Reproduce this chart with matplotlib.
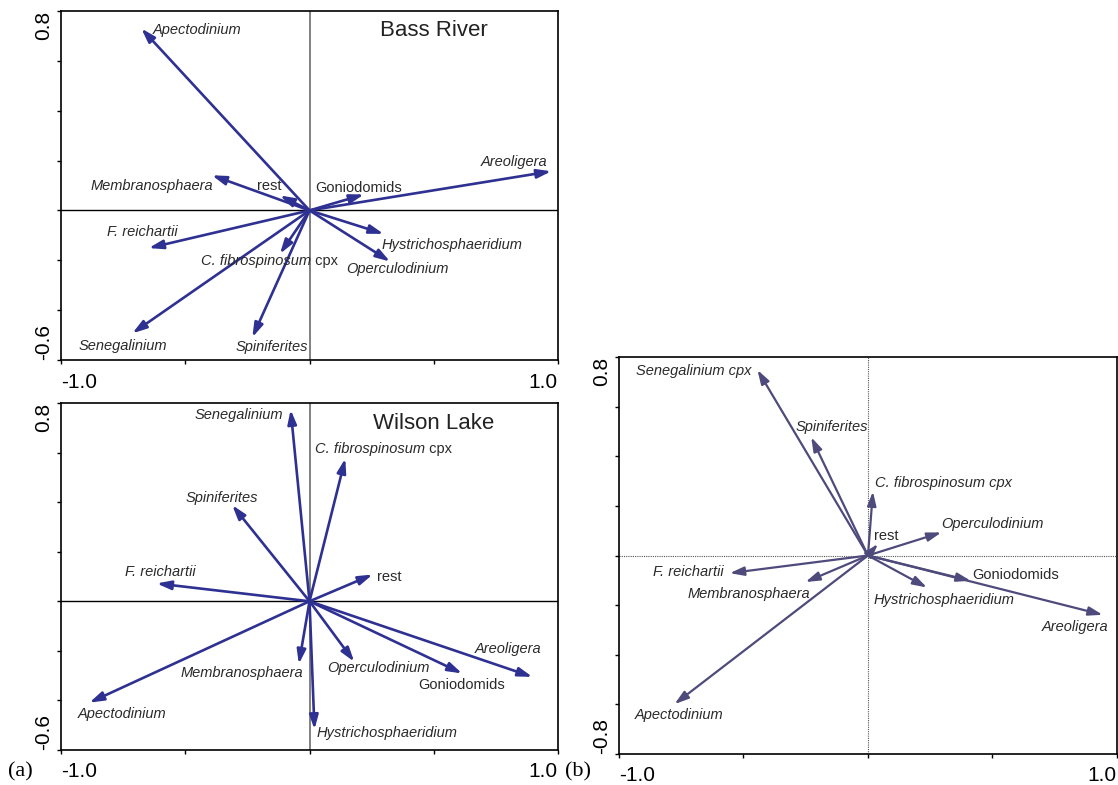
import matplotlib
matplotlib.use("Agg")
import matplotlib.pyplot as plt

plt.rcParams["font.family"] = ["Liberation Sans", "DejaVu Sans"]

# taxa in the same order for every panel
TAXA = ["Apectodinium", "Areoligera", "C. fibrospinosum cpx", "F. reichartii",
        "Goniodomids", "Hystrichosphaeridium", "Membranosphaera",
        "Operculodinium", "rest", "Senegalinium", "Spiniferites"]
TAXA_B = ["Apectodinium", "Areoligera", "C. fibrospinosum cpx", "F. reichartii",
          "Goniodomids", "Hystrichosphaeridium", "Membranosphaera",
          "Operculodinium", "rest", "Senegalinium cpx", "Spiniferites"]
UPRIGHT = {"Goniodomids", "rest"}

# arrow tips (axis 1, axis 2)
BASS_X = [-0.677, 0.973, -0.119, -0.647, 0.219, 0.298, -0.393, 0.324, -0.119, -0.713, -0.230]
BASS_Y = [0.730, 0.157, -0.174, -0.151, 0.064, -0.094, 0.141, -0.205, 0.060, -0.493, -0.509]
WILSON_X = [-0.886, 0.897, 0.144, -0.615, 0.614, 0.020, -0.043, 0.180, 0.254, -0.076, -0.311]
WILSON_Y = [-0.409, -0.305, 0.576, 0.072, -0.291, -0.517, -0.253, -0.244, 0.108, 0.773, 0.388]
B_X = [-0.777, 0.943, 0.020, -0.555, 0.413, 0.237, -0.251, 0.295, 0.040, -0.444, -0.228]
B_Y = [-0.599, -0.239, 0.258, -0.071, -0.102, -0.129, -0.107, 0.093, 0.047, 0.748, 0.477]

# label placement (x, y, ha) -- layout only
LAB_BASS = [(-0.630, 0.723, "left"), (0.959, 0.194, "right"), (-0.436, -0.201, "left"),
            (-0.532, -0.087, "right"), (0.024, 0.091, "left"), (0.288, -0.138, "left"),
            (-0.388, 0.099, "right"), (0.147, -0.236, "left"), (-0.162, 0.099, "center"),
            (-0.929, -0.543, "left"), (-0.299, -0.547, "left")]
LAB_WILSON = [(-0.932, -0.455, "left"), (0.933, -0.194, "right"), (0.022, 0.616, "left"),
              (-0.742, 0.119, "left"), (0.614, -0.338, "center"), (0.029, -0.533, "left"),
              (-0.026, -0.291, "right"), (0.072, -0.271, "left"), (0.273, 0.096, "left"),
              (-0.108, 0.750, "right"), (-0.497, 0.418, "left")]
LAB_B = [(-0.938, -0.642, "left"), (0.965, -0.289, "right"), (0.030, 0.294, "left"),
         (-0.579, -0.068, "right"), (0.417, -0.079, "left"), (0.022, -0.181, "left"),
         (-0.232, -0.156, "right"), (0.294, 0.128, "left"), (0.023, 0.079, "left"),
         (-0.466, 0.745, "right"), (-0.290, 0.519, "left")]

LABEL_FS = 10.5
TXT_C = "#2a2a2a"


def style_axes(ax, ylo, yhi, dotted):
    ax.set_xlim(-1, 1)
    ax.set_ylim(ylo, yhi)
    ax.set_xticks([-1, -0.5, 0, 0.5, 1])
    ax.set_xticklabels(["-1.0", "", "", "", "1.0"])
    n = int(round((yhi - ylo) / 0.2)) + 1
    yt = [ylo + 0.2 * i for i in range(n)]
    ax.set_yticks(yt)
    ax.set_yticklabels([f"{ylo:.1f}"] + [""] * (n - 2) + [f"{yhi:.1f}"],
                       rotation=90)
    ax.tick_params(axis="x", length=3, width=1, pad=6, labelsize=15)
    ax.tick_params(axis="y", length=3, width=1, pad=3, labelsize=15)
    xl = ax.get_xticklabels()
    xl[0].set_ha("left")
    xl[-1].set_ha("right")
    yl = ax.get_yticklabels()
    yl[0].set_va("bottom")
    yl[-1].set_va("top")
    for s in ax.spines.values():
        s.set_linewidth(1.2)
    if dotted:
        ax.axhline(0, color="#555555", lw=0.8, ls=(0, (1, 1)), zorder=1)
        ax.axvline(0, color="#555555", lw=0.8, ls=(0, (1, 1)), zorder=1)
    else:
        ax.axhline(0, color="black", lw=1.0, zorder=1)
        ax.axvline(0, color="#777777", lw=1.3, zorder=1)


def draw_panel(ax, names, xs, ys, labs, color, lw, cpx_upright):
    for name, x, y, (lx, ly, ha) in zip(names, xs, ys, labs):
        ax.annotate("", xy=(x, y), xytext=(0, 0),
                    arrowprops=dict(arrowstyle="-|>,head_length=0.7,head_width=0.22",
                                    color=color, lw=lw, shrinkA=0, shrinkB=0,
                                    mutation_scale=12),
                    zorder=3)
        style = "normal" if name in UPRIGHT else "italic"
        if cpx_upright and name.endswith(" cpx"):
            t = ax.text(lx, ly, name[:-4], ha=ha, va="center", fontsize=LABEL_FS,
                        style="italic", color=TXT_C, zorder=4)
            ax.annotate(" cpx", xy=(1, 0), xycoords=t, ha="left", va="bottom",
                        fontsize=LABEL_FS, color=TXT_C, zorder=4)
        else:
            ax.text(lx, ly, name, ha=ha, va="center", fontsize=LABEL_FS,
                    style=style, color=TXT_C, zorder=4)


fig = plt.figure(figsize=(11.18, 7.85), dpi=100)
ax1 = fig.add_axes([0.0546, 0.5414, 0.4445, 0.4446])
ax2 = fig.add_axes([0.0546, 0.0446, 0.4445, 0.4420])
ax3 = fig.add_axes([0.5537, 0.0395, 0.4453, 0.5057])

style_axes(ax1, -0.6, 0.8, False)
style_axes(ax2, -0.6, 0.8, False)
style_axes(ax3, -0.8, 0.8, True)

BLUE = "#2e3192"
PURPLE = "#4e4b7c"
draw_panel(ax1, TAXA, BASS_X, BASS_Y, LAB_BASS, BLUE, 1.9, True)
draw_panel(ax2, TAXA, WILSON_X, WILSON_Y, LAB_WILSON, BLUE, 1.9, True)
draw_panel(ax3, TAXA_B, B_X, B_Y, LAB_B, PURPLE, 1.6, False)

ax1.text(0.499, 0.721, "Bass River", ha="center", va="center", fontsize=16, color="#222222")
ax2.text(0.499, 0.716, "Wilson Lake", ha="center", va="center", fontsize=16, color="#222222")

fig.text(0.007, 0.0166, "(a)", family="Liberation Serif", fontsize=16, ha="left", va="center")
fig.text(0.505, 0.0166, "(b)", family="Liberation Serif", fontsize=16, ha="left", va="center")

fig.savefig("out.png", dpi=100)
